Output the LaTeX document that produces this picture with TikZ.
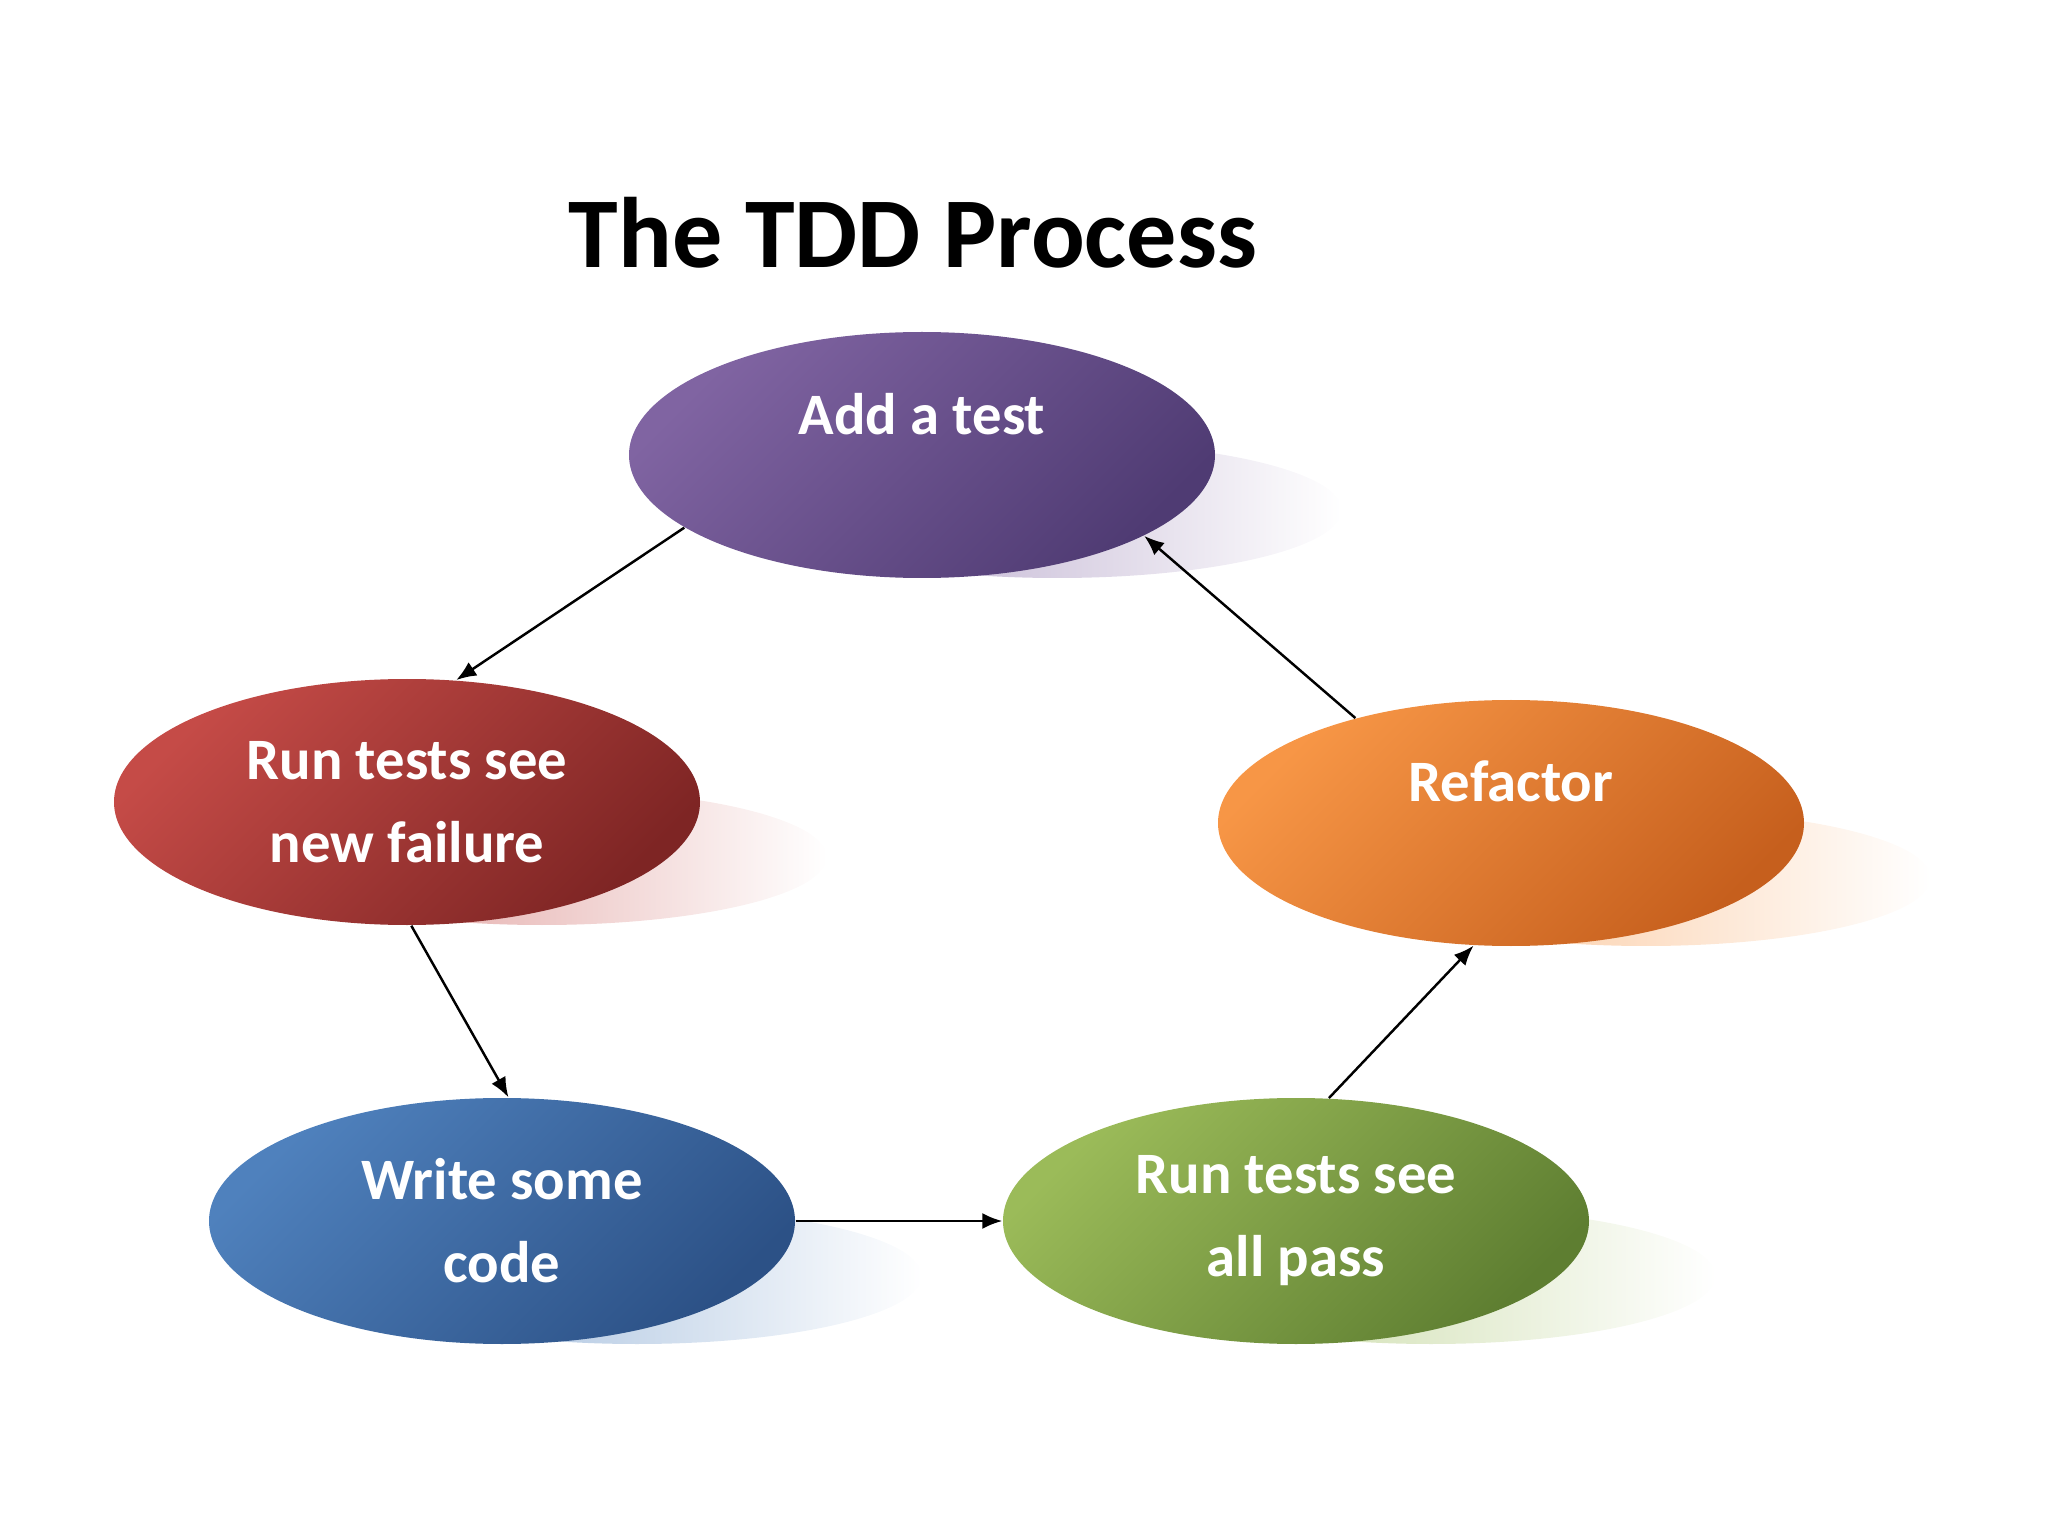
\documentclass[tikz,border=0pt]{standalone}
\usepackage{fontspec}
\setmainfont{Carlito}
\usepackage{xcolor}
\usepackage{tikz}
\usetikzlibrary{arrows.meta,shapes.geometric,backgrounds}

\definecolor{tddpurple}{HTML}{8064A2}
\definecolor{tddpurpledk}{HTML}{4F3B73}
\definecolor{tddred}{HTML}{C54B47}
\definecolor{tddreddk}{HTML}{7E2524}
\definecolor{tddorange}{HTML}{F79646}
\definecolor{tddorangedk}{HTML}{C65F1D}
\definecolor{tddblue}{HTML}{4F81BD}
\definecolor{tddbluedk}{HTML}{2C5186}
\definecolor{tddgreen}{HTML}{9BBB59}
\definecolor{tddgreendk}{HTML}{5E7E31}

\begin{document}
\begin{tikzpicture}[
  % Shaded ellipse for one step of the cycle
  stage/.style={ellipse, inner sep=0pt,
                minimum width=5.86cm, minimum height=2.46cm,
                top color=#1, bottom color=#1dk, shading angle=45,
                text=white, align=center,
                font=\fontsize{16.7pt}{23.6pt}\selectfont\bfseries},
  % Single line of text sits in the upper half
  upper/.style={text depth=0.83cm},
  % Soft shadow to the lower right
  shd/.style={left color=#1!60, right color=white},
  ttl/.style={anchor=base, font=\fontsize{28.5pt}{34pt}\selectfont\bfseries},
  arr/.style={-{Latex[length=2mm,width=1.6mm]}, line width=0.7pt}
]
\useasboundingbox (0,0) rectangle (20.48,-15.36);

% ── Title ─────────────────────────────────────────────────────────────────
\node[ttl] (title) at (9.13,-2.68) {The TDD Process};

% ── Cycle steps ───────────────────────────────────────────────────────────
\node[stage=tddpurple, upper] (add)  at (9.22,-4.55)   {Add a test};
\node[stage=tddred]           (fail) at (4.07,-8.02)   {Run tests see\\new failure};
\node[stage=tddorange, upper] (refac) at (15.11,-8.23) {Refactor};
\node[stage=tddblue]          (write) at (5.02,-12.21) {Write some\\code};
\node[stage=tddgreen]         (pass) at (12.96,-12.21) {Run tests see\\all pass};

% ── Shadows behind the steps ──────────────────────────────────────────────
\begin{pgfonlayer}{background}
  \shade[shd=tddpurple] ([shift={(1.35,-0.55)}]add.center)   ellipse (2.85 and 0.68);
  \shade[shd=tddred]    ([shift={(1.35,-0.55)}]fail.center)  ellipse (2.85 and 0.68);
  \shade[shd=tddorange] ([shift={(1.35,-0.55)}]refac.center) ellipse (2.85 and 0.68);
  \shade[shd=tddblue]   ([shift={(1.35,-0.55)}]write.center) ellipse (2.85 and 0.68);
  \shade[shd=tddgreen]  ([shift={(1.35,-0.55)}]pass.center)  ellipse (2.85 and 0.68);
\end{pgfonlayer}

% ── Connectors round the cycle ────────────────────────────────────────────
\draw[arr] (add.197)   -- (fail.68);
\draw[arr] (fail.272)  -- (write.87);
\draw[arr] (write.east) -- (pass.west);
\draw[arr] (pass.75)   -- (refac.253);
\draw[arr] (refac.146) -- (add.340);

\end{tikzpicture}
\end{document}
